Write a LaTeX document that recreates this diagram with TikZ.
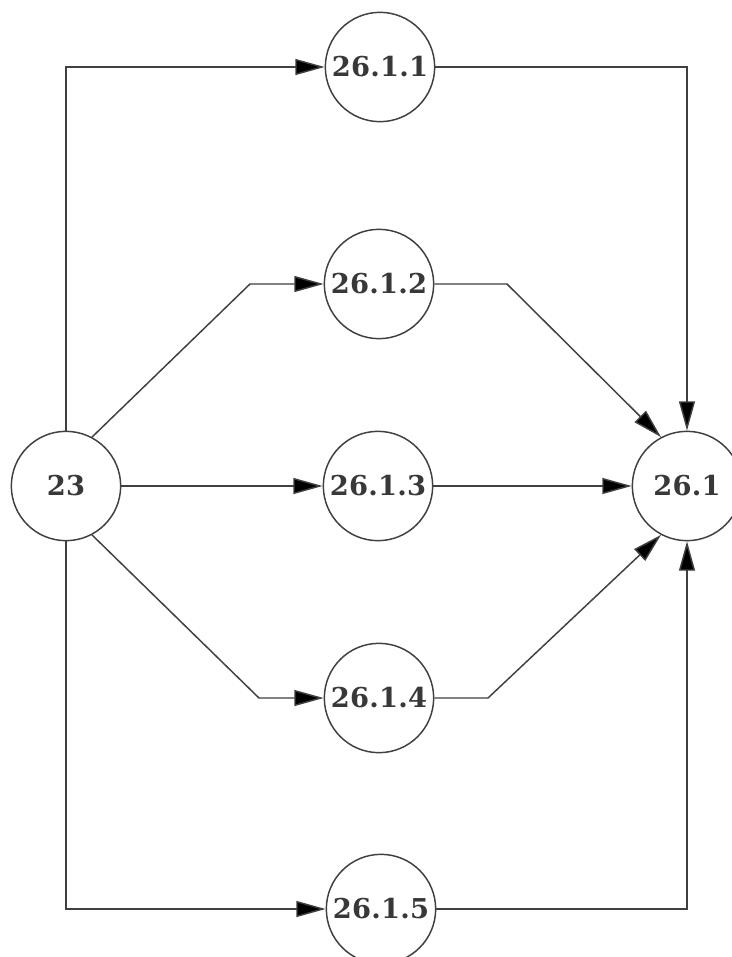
\documentclass[tikz,border=0pt]{standalone}
\usepackage{fontspec}
\newfontfamily\labelfont{DejaVu Serif}[LetterSpace=1]
\usetikzlibrary{arrows.meta}
\definecolor{linegray}{gray}{0.25}
\definecolor{textgray}{gray}{0.22}
\begin{document}
\begin{tikzpicture}[x=0.75pt,y=-0.75pt,
  state/.style={circle, draw=linegray, line width=1.1pt, minimum size=82pt, inner sep=0pt,
    font=\labelfont\bfseries\fontsize{20.5}{20.5}\selectfont, text=textgray},
  flow/.style={draw=linegray, line width=1.1pt, -{Triangle[length=22pt,width=12pt,fill=black]}}]
\useasboundingbox[fill=white] (0,0) rectangle (732,957);
\node[state] (n23) at (66,486) {23};
\node[state] (a1) at (380,67) {26.1.1};
\node[state] (a2) at (379,284) {26.1.2};
\node[state] (a3) at (378,486) {26.1.3};
\node[state] (a4) at (379,698) {26.1.4};
\node[state] (a5) at (381,909) {26.1.5};
\node[state] (t) at (687,486) {26.1};
\coordinate (b2l) at (250,284);
\coordinate (b2r) at (507,284);
\coordinate (b4l) at (259,698);
\coordinate (b4r) at (488,698);
\draw[flow] (n23.north) -- (n23.north |- a1) -- (a1);
\draw[flow] (a1) -- (a1 -| t) -- (t);
\draw[flow] (n23.62) -- (b2l) -- (a2);
\draw[flow] (a2) -- (b2r) -- (t.118);
\draw[flow] (n23) -- (a3);
\draw[flow] (a3) -- (t);
\draw[flow] (n23.-62) -- (b4l) -- (a4);
\draw[flow] (a4) -- (b4r) -- (t.-118);
\draw[flow] (n23.south) -- (n23.south |- a5) -- (a5);
\draw[flow] (a5) -- (a5 -| t) -- (t);
\end{tikzpicture}
\end{document}
